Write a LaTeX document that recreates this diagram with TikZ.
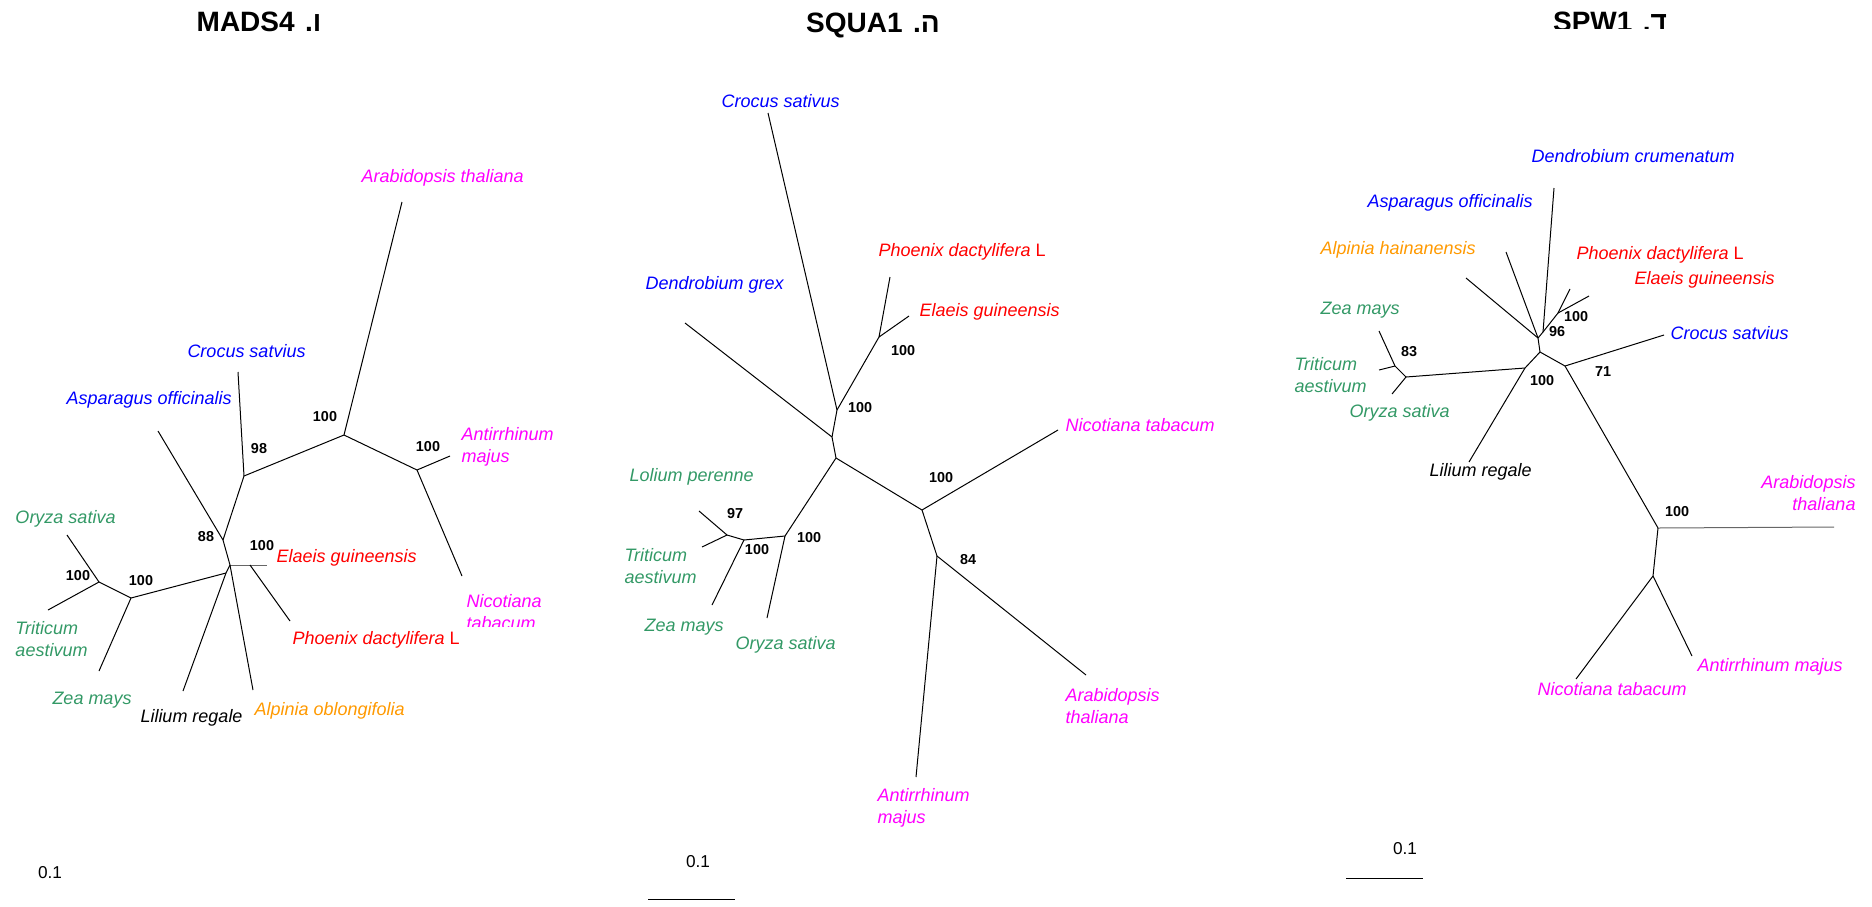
\documentclass[tikz,border=0pt]{standalone}
\usepackage{fontspec}
\setmainfont{Liberation Sans}
\newfontfamily\hebfont[Script=Hebrew]{Liberation Sans}
\usepackage{xcolor}
\usepackage{tikz}
\usetikzlibrary{positioning}
\TeXXeTstate=1

\definecolor{monoblue}{RGB}{0,0,255}
\definecolor{palmred}{RGB}{255,0,0}
\definecolor{dicotpink}{RGB}{255,0,255}
\definecolor{grassgreen}{RGB}{51,153,102}
\definecolor{gingerorange}{RGB}{255,153,0}

\begin{document}
\begin{tikzpicture}[x=0.5pt, y=-0.5pt, line width=0.5pt]
    \tikzstyle{taxon} = [inner sep=0pt, anchor=west, align=left, font=\fontsize{9}{11}\selectfont\itshape]
    \tikzstyle{boot} = [inner sep=0pt, font=\fontsize{7.2}{9}\selectfont\bfseries]
    \tikzstyle{title} = [inner sep=0pt, font=\hebfont\fontsize{14}{16}\selectfont\bfseries]
    \tikzstyle{barlabel} = [inner sep=0pt, font=\fontsize{8.6}{10}\selectfont]
    \tikzstyle{flat} = [draw=black!60]

    \useasboundingbox (0,0) rectangle (1872,906);

    \coordinate (mAraT) at (402,202);
    \coordinate (mTop) at (344,435);
    \coordinate (mN98) at (244,476);
    \coordinate (mCroT) at (238,372);
    \coordinate (mAntN) at (417,470);
    \coordinate (mAntT) at (450,456);
    \coordinate (mNicT) at (462,576);
    \coordinate (mN88) at (223,540);
    \coordinate (mAspT) at (158,431);
    \coordinate (mC1) at (230,565);
    \coordinate (mEP) at (250,565);
    \coordinate (mElaT) at (267,565);
    \coordinate (mPhoT) at (290,621);
    \coordinate (mAlpT) at (253,690);
    \coordinate (mC2) at (226,573);
    \coordinate (mLilT) at (183,691);
    \coordinate (mG1) at (131,598);
    \coordinate (mG2) at (99,582);
    \coordinate (mOryT) at (67,535);
    \coordinate (mTriT) at (48,610);
    \coordinate (mZeaT) at (99,671);

    \draw (mTop) -- (mAraT);
    \draw (mTop) -- (mAntN);
    \draw (mAntN) -- (mAntT);
    \draw (mAntN) -- (mNicT);
    \draw (mTop) -- (mN98);
    \draw (mN98) -- (mCroT);
    \draw (mN98) -- (mN88);
    \draw (mN88) -- (mAspT);
    \draw (mN88) -- (mC1);
    \draw [flat] (mC1) -- (mEP) -- (mElaT);
    \draw (mEP) -- (mPhoT);
    \draw (mC1) -- (mAlpT);
    \draw (mC1) -- (mC2);
    \draw (mC2) -- (mLilT);
    \draw (mC2) -- (mG1);
    \draw (mG1) -- (mZeaT);
    \draw (mG1) -- (mG2);
    \draw (mG2) -- (mOryT);
    \draw (mG2) -- (mTriT);

    \node [title] (mTitle) at (259,22) {\beginR ו. \beginL MADS4\endL\endR};
    \node [taxon, text=dicotpink] (mAraL) at (361,178) {Arabidopsis thaliana};
    \node [taxon, text=monoblue] (mCroL) at (187,351) {Crocus satvius};
    \node [taxon, text=monoblue] (mAspL) at (66,400) {Asparagus officinalis};
    \node [taxon, text=dicotpink] (mAntL) at (461,447) {Antirrhinum\\majus};
    \begin{scope}
        \clip (440,580) rectangle (580,626);
        \node [taxon, text=dicotpink] (mNicL) at (466,612) {Nicotiana\\tabacum};
    \end{scope}
    \node [taxon, text=palmred] (mElaL) at (276,558) {Elaeis guineensis};
    \node [taxon, text=palmred] (mPhoL) at (292,640) {Phoenix dactylifera \upshape L};
    \node [taxon, text=grassgreen] (mOryL) at (15,519) {Oryza sativa};
    \node [taxon, text=grassgreen] (mTriL) at (15,639) {Triticum\\aestivum};
    \node [taxon, text=grassgreen] (mZeaL) at (52,700) {Zea mays};
    \node [taxon] (mLilL) at (140,718) {Lilium regale};
    \node [taxon, text=gingerorange] (mAlpL) at (254,711) {Alpinia oblongifolia};
    \node [boot] (mB1) at (325,417) {100};
    \node [boot] (mB2) at (428,447) {100};
    \node [boot] (mB3) at (259,449) {98};
    \node [boot] (mB4) at (206,537) {88};
    \node [boot] (mB5) at (262,546) {100};
    \node [boot] (mB6) at (141,581) {100};
    \node [boot] (mB7) at (78,576) {100};
    \node [barlabel] (mBarL) at (50,873) {0.1};

    \coordinate (qCroT) at (768,113);
    \coordinate (qP) at (837,410);
    \coordinate (qD) at (832,437);
    \coordinate (qDenT) at (685,323);
    \coordinate (qPalm) at (879,337);
    \coordinate (qPhoT) at (890,277);
    \coordinate (qElaT) at (909,316);
    \coordinate (qE) at (836,458);
    \coordinate (qF) at (922,510);
    \coordinate (qNicT) at (1058,430);
    \coordinate (qG) at (937,556);
    \coordinate (qAntT) at (916,777);
    \coordinate (qAraT) at (1086,675);
    \coordinate (qH) at (785,536);
    \coordinate (qOryT) at (767,618);
    \coordinate (qI) at (744,540);
    \coordinate (qZeaT) at (712,605);
    \coordinate (qJ) at (727,535);
    \coordinate (qLolT) at (699,511);
    \coordinate (qTriT) at (702,547);
    \coordinate (qBarA) at (648,899);
    \coordinate (qBarB) at (735,899);

    \draw (qP) -- (qCroT);
    \draw (qP) -- (qPalm);
    \draw (qPalm) -- (qPhoT);
    \draw (qPalm) -- (qElaT);
    \draw (qP) -- (qD);
    \draw (qD) -- (qDenT);
    \draw (qD) -- (qE);
    \draw (qE) -- (qF);
    \draw (qF) -- (qNicT);
    \draw (qF) -- (qG);
    \draw (qG) -- (qAntT);
    \draw (qG) -- (qAraT);
    \draw (qE) -- (qH);
    \draw (qH) -- (qOryT);
    \draw (qH) -- (qI);
    \draw (qI) -- (qZeaT);
    \draw (qI) -- (qJ);
    \draw (qJ) -- (qLolT);
    \draw (qJ) -- (qTriT);
    \draw (qBarA) -- (qBarB);

    \node [title] (qTitle) at (873,25) {\beginR ה. \beginL SQUA1\endL\endR};
    \node [taxon, text=monoblue] (qCroL) at (721,101) {Crocus sativus};
    \node [taxon, text=monoblue] (qDenL) at (645,285) {Dendrobium grex};
    \node [taxon, text=palmred] (qPhoL) at (878,252) {Phoenix dactylifera \upshape L};
    \node [taxon, text=palmred] (qElaL) at (919,312) {Elaeis guineensis};
    \node [taxon, text=dicotpink] (qNicL) at (1065,425) {Nicotiana tabacum};
    \node [taxon, text=grassgreen] (qLolL) at (629,477) {Lolium perenne};
    \node [taxon, text=grassgreen] (qTriL) at (624,566) {Triticum\\aestivum};
    \node [taxon, text=grassgreen] (qZeaL) at (644,627) {Zea mays};
    \node [taxon, text=grassgreen] (qOryL) at (735,645) {Oryza sativa};
    \node [taxon, text=dicotpink] (qAraL) at (1065,706) {Arabidopsis\\thaliana};
    \node [taxon, text=dicotpink] (qAntL) at (877,808) {Antirrhinum\\majus};
    \node [boot] (qB1) at (860,408) {100};
    \node [boot] (qB2) at (903,351) {100};
    \node [boot] (qB3) at (941,478) {100};
    \node [boot] (qB4) at (968,560) {84};
    \node [boot] (qB5) at (809,538) {100};
    \node [boot] (qB6) at (757,550) {100};
    \node [boot] (qB7) at (735,514) {97};
    \node [barlabel] (qBarL) at (698,862) {0.1};

    \coordinate (pDenT) at (1554,188);
    \coordinate (pAspT) at (1506,252);
    \coordinate (pAlpT) at (1466,278);
    \coordinate (pPhoT) at (1570,289);
    \coordinate (pElaT) at (1589,296);
    \coordinate (pPalm) at (1558,313);
    \coordinate (pM1) at (1543,332);
    \coordinate (pM2) at (1538,338);
    \coordinate (pM3) at (1540,352);
    \coordinate (pQ) at (1525,368);
    \coordinate (pR) at (1406,377);
    \coordinate (pS) at (1395,366);
    \coordinate (pZeaT) at (1379,331);
    \coordinate (pTriT) at (1379,370);
    \coordinate (pOryT) at (1392,394);
    \coordinate (pLilT) at (1469,462);
    \coordinate (pT) at (1565,366);
    \coordinate (pCroT) at (1664,335);
    \coordinate (pU) at (1658,528);
    \coordinate (pAraT) at (1834,527);
    \coordinate (pV) at (1653,576);
    \coordinate (pNicT) at (1576,679);
    \coordinate (pAntT) at (1692,656);
    \coordinate (pBarA) at (1346,878);
    \coordinate (pBarB) at (1423,878);

    \draw (pM1) -- (pDenT);
    \draw (pM1) -- (pPalm);
    \draw (pPalm) -- (pPhoT);
    \draw (pPalm) -- (pElaT);
    \draw (pM1) -- (pM2);
    \draw (pM2) -- (pAspT);
    \draw (pM2) -- (pAlpT);
    \draw (pM2) -- (pM3);
    \draw (pM3) -- (pQ);
    \draw (pQ) -- (pLilT);
    \draw (pQ) -- (pR);
    \draw (pR) -- (pOryT);
    \draw (pR) -- (pS);
    \draw (pS) -- (pZeaT);
    \draw (pS) -- (pTriT);
    \draw (pM3) -- (pT);
    \draw (pT) -- (pCroT);
    \draw (pT) -- (pU);
    \draw [flat] (pU) -- (pAraT);
    \draw (pU) -- (pV);
    \draw (pV) -- (pNicT);
    \draw (pV) -- (pAntT);
    \draw (pBarA) -- (pBarB);

    \begin{scope}
        \clip (1500,0) rectangle (1720,28);
        \node [title] (pTitle) at (1610,22) {\beginR ד. \beginL SPW1\endL\endR};
    \end{scope}
    \node [taxon, text=monoblue] (pDenL) at (1531,156) {Dendrobium crumenatum};
    \node [taxon, text=monoblue] (pAspL) at (1367,203) {Asparagus officinalis};
    \node [taxon, text=gingerorange] (pAlpL) at (1320,250) {Alpinia hainanensis};
    \node [taxon, text=palmred] (pPhoL) at (1576,255) {Phoenix dactylifera \upshape L};
    \node [taxon, text=palmred] (pElaL) at (1634,280) {Elaeis guineensis};
    \node [taxon, text=grassgreen] (pZeaL) at (1320,310) {Zea mays};
    \node [taxon, text=monoblue] (pCroL) at (1670,333) {Crocus satvius};
    \node [taxon, text=grassgreen] (pTriL) at (1294,375) {Triticum\\aestivum};
    \node [taxon, text=grassgreen] (pOryL) at (1349,413) {Oryza sativa};
    \node [taxon] (pLilL) at (1429,472) {Lilium regale};
    \node [taxon, text=dicotpink, anchor=east, align=right] (pAraL) at (1856,493) {Arabidopsis\\thaliana};
    \node [taxon, text=dicotpink] (pAntL) at (1697,667) {Antirrhinum majus};
    \node [taxon, text=dicotpink] (pNicL) at (1537,689) {Nicotiana tabacum};
    \node [boot] (pB1) at (1576,317) {100};
    \node [boot] (pB2) at (1557,332) {96};
    \node [boot] (pB3) at (1409,352) {83};
    \node [boot] (pB4) at (1542,381) {100};
    \node [boot] (pB5) at (1603,372) {71};
    \node [boot] (pB6) at (1677,512) {100};
    \node [barlabel] (pBarL) at (1405,849) {0.1};
\end{tikzpicture}
\end{document}
